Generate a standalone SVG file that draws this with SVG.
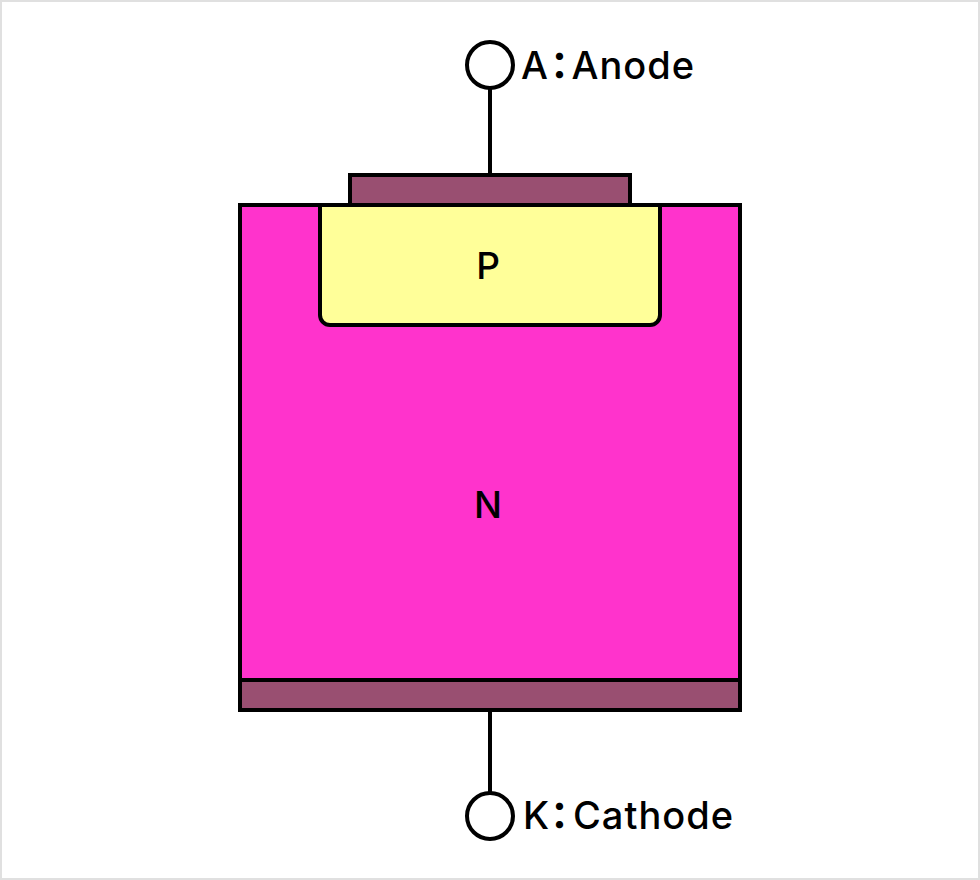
<svg xmlns="http://www.w3.org/2000/svg" width="980" height="880" viewBox="0 0 980 880">
<style>
.s{stroke:#000;stroke-width:4}
.m{fill:#994f71}
.t{font-family:"Inter","Noto Sans CJK JP",sans-serif;font-size:38px;font-weight:500;letter-spacing:1px;fill:#000}
.c{font-family:"Noto Sans CJK JP",sans-serif;font-weight:700;font-feature-settings:"palt";letter-spacing:0}
</style>
<rect x="0" y="0" width="980" height="880" fill="#fff"/>
<rect x="1" y="1" width="978" height="878" fill="none" stroke="#e0e0e0" stroke-width="2"/>
<g id="connectors">
<line class="s" x1="490" y1="88" x2="490" y2="175"/>
<line class="s" x1="490" y1="710" x2="490" y2="794"/>
</g>
<g id="anode-metal"><rect class="s m" x="350" y="175" width="280" height="30"/></g>
<g id="n-region"><rect class="s" x="240" y="205" width="500" height="475" fill="#ff33cc"/></g>
<g id="p-region"><path class="s" d="M320 205V315a10 10 0 0 0 10 10H650a10 10 0 0 0 10-10V205Z" fill="#ffff99"/><text class="t" x="488" y="279" text-anchor="middle" style="font-size:37px;letter-spacing:0">P</text></g>
<text class="t" x="488" y="518" text-anchor="middle" style="font-size:37px;letter-spacing:0">N</text>
<g id="cathode-metal"><rect class="s m" x="240" y="680" width="500" height="30"/></g>
<g id="anode-terminal"><circle class="s" cx="490" cy="65" r="23" fill="#fff"/><text class="t" x="521" y="79">A<tspan class="c" x="550">：</tspan><tspan x="571.5">Anode</tspan></text></g>
<g id="cathode-terminal"><circle class="s" cx="490" cy="816" r="23" fill="#fff"/><text class="t" x="523" y="829">K<tspan class="c" x="550">：</tspan><tspan x="573">Cathode</tspan></text></g>
</svg>
